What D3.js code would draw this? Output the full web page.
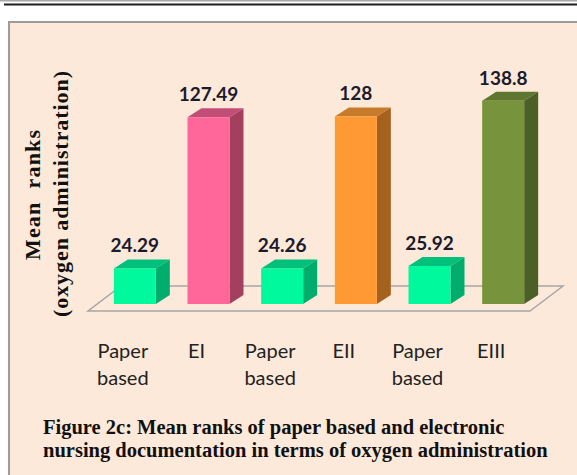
<!DOCTYPE html>
<html>
<head>
<meta charset="utf-8">
<script src="https://cdn.jsdelivr.net/npm/d3@7"></script>
<style>
  body { margin: 0; background: #fff; }
  svg { display: block; }
</style>
</head>
<body>
<div id="chart"></div>
<script>
// data
const categories = ["Paper based", "EI", "Paper based", "EII", "Paper based", "EIII"];
const values = [24.29, 127.49, 24.26, 128, 25.92, 138.8];
const valueLabels = ["24.29", "127.49", "24.26", "128", "25.92", "138.8"];
const yTitle = ["Mean  ranks", "(oxygen administration)"];
const caption = [
  "Figure 2c: Mean ranks of paper based and electronic",
  "nursing documentation in terms of oxygen administration"
];

const width = 577, height = 475;

// front / side / top shades per category
const color = d3.scaleOrdinal()
  .domain(["Paper based", "EI", "EII", "EIII"])
  .range([
    ["#00f99c", "#00ad6d", "#00c07b"],
    ["#ff6699", "#a3405f", "#c24e77"],
    ["#ff9933", "#a5611e", "#c77a29"],
    ["#77933c", "#4c5f27", "#5f7631"]
  ]);

const svg = d3.select("#chart")
  .append("svg")
  .attr("width", width)
  .attr("height", height);

// page rules above the figure box
svg.append("line")
  .attr("x1", 0).attr("x2", width)
  .attr("y1", 0.75).attr("y2", 0.75)
  .attr("stroke", "#a8a8a8").attr("stroke-width", 1.5);
svg.append("line")
  .attr("x1", 4).attr("x2", width)
  .attr("y1", 4.5).attr("y2", 4.5)
  .attr("stroke", "#1e1e1e").attr("stroke-width", 2.2);

// figure box
svg.append("rect")
  .attr("x", 9).attr("y", 22)
  .attr("width", 620).attr("height", 500)
  .attr("fill", "#fde9da")
  .attr("stroke", "#9c9c9c")
  .attr("stroke-width", 2);

// scales
const x = d3.scaleBand()
  .domain(d3.range(values.length))
  .range([98, 540])
  .paddingInner(0.43)
  .paddingOuter(0.215);

const y = d3.scaleLinear()
  .domain([0, 140])
  .range([304, 304 - 140 * 1.465]);

const dx = 14, dy = 9;          // bar depth
const fdx = 33, fdy = 25;       // floor depth

// floor
const fx0 = x.range()[0] - 10, fx1 = x.range()[1] - 10, fy = y(0) + 7;
svg.append("polygon")
  .attr("points", [
    [fx0, fy], [fx1, fy], [fx1 + fdx, fy - fdy], [fx0 + fdx, fy - fdy]
  ].map(p => p.join(",")).join(" "))
  .attr("fill", "none")
  .attr("stroke", "#a6a6a6")
  .attr("stroke-width", 1.5);

// bars
const bw = x.bandwidth();
const bars = svg.append("g")
  .selectAll("g")
  .data(values)
  .join("g");

bars.append("polygon")
  .attr("points", (d, i) => {
    const x0 = x(i) + bw, yt = y(d), yb = y(0);
    return [[x0, yt], [x0 + dx, yt - dy], [x0 + dx, yb - dy], [x0, yb]]
      .map(p => p.join(",")).join(" ");
  })
  .attr("fill", (d, i) => color(categories[i])[1]);

bars.append("polygon")
  .attr("points", (d, i) => {
    const x0 = x(i), yt = y(d);
    return [[x0, yt], [x0 + dx, yt - dy], [x0 + bw + dx, yt - dy], [x0 + bw, yt]]
      .map(p => p.join(",")).join(" ");
  })
  .attr("fill", (d, i) => color(categories[i])[2]);

bars.append("rect")
  .attr("x", (d, i) => x(i))
  .attr("y", d => y(d))
  .attr("width", bw)
  .attr("height", d => y(0) - y(d))
  .attr("fill", (d, i) => color(categories[i])[0]);

// value labels
svg.append("g")
  .selectAll("text")
  .data(values)
  .join("text")
  .attr("x", (d, i) => x(i) + bw / 2)
  .attr("y", d => y(d) - 16)
  .attr("text-anchor", "middle")
  .attr("font-family", "Lato, 'Open Sans', sans-serif")
  .attr("font-weight", "bold")
  .attr("font-size", 19)
  .attr("fill", "#1b1b2b")
  .text((d, i) => valueLabels[i]);

// category labels
svg.append("g")
  .selectAll("text")
  .data(categories)
  .join("text")
  .attr("x", (d, i) => x(i) + bw / 2 - 12)
  .attr("y", 358)
  .attr("text-anchor", "middle")
  .attr("font-family", "Lato, 'Open Sans', sans-serif")
  .attr("font-size", 20)
  .attr("fill", "#222")
  .each(function (d, i) {
    const t = d3.select(this);
    d.split(" ").forEach((w, k) => {
      t.append("tspan")
        .attr("x", x(i) + bw / 2 - 12)
        .attr("dy", k === 0 ? 0 : 27)
        .text(w);
    });
  });

// y axis title
svg.append("text")
  .attr("transform", "translate(40,195) rotate(-90)")
  .attr("text-anchor", "middle")
  .attr("font-family", "'Liberation Serif', 'Times New Roman', serif")
  .attr("font-weight", "bold")
  .attr("font-size", 22)
  .attr("textLength", 130)
  .attr("fill", "#111")
  .attr("xml:space", "preserve")
  .style("white-space", "pre")
  .text(yTitle[0]);

svg.append("text")
  .attr("transform", "translate(68,194) rotate(-90)")
  .attr("text-anchor", "middle")
  .attr("font-family", "'Liberation Serif', 'Times New Roman', serif")
  .attr("font-weight", "bold")
  .attr("font-size", 22)
  .attr("textLength", 246)
  .attr("fill", "#111")
  .text(yTitle[1]);

// caption
svg.append("g")
  .selectAll("text")
  .data(caption)
  .join("text")
  .attr("x", 43)
  .attr("y", (d, i) => 434 + i * 23)
  .attr("font-family", "'Liberation Serif', 'Times New Roman', serif")
  .attr("font-weight", "bold")
  .attr("font-size", 20.5)
  .attr("fill", "#111")
  .text(d => d);
</script>
</body>
</html>
